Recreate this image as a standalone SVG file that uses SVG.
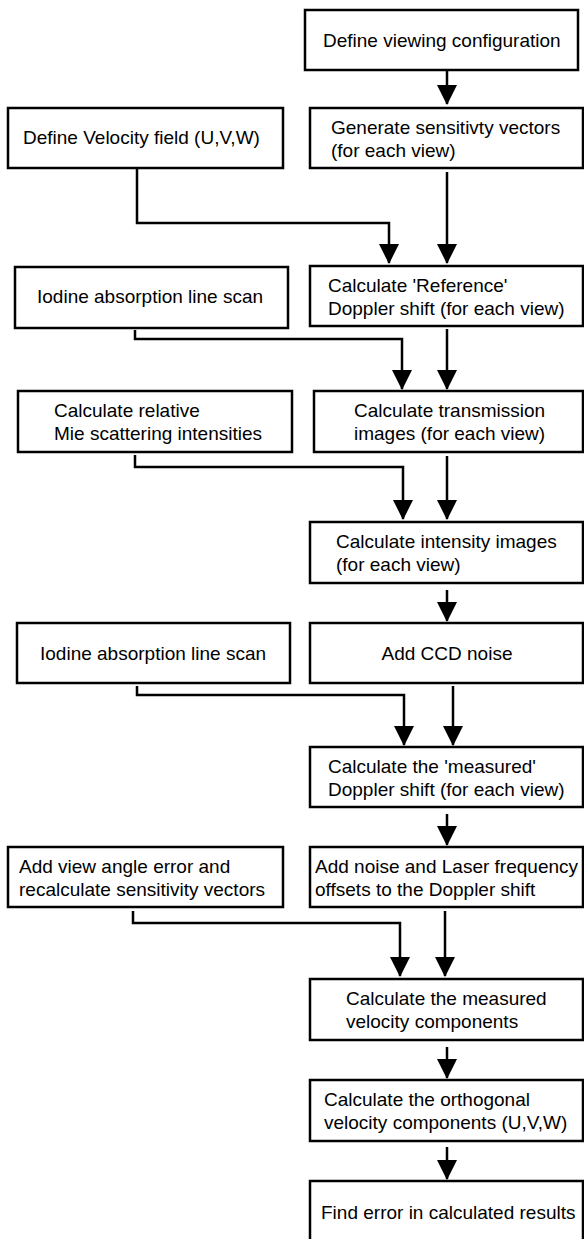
<svg xmlns="http://www.w3.org/2000/svg" width="584" height="1239" viewBox="0 0 584 1239">
<defs>
<style>
.box{fill:#fff;stroke:#000;stroke-width:2.5}
.t{font-family:"Liberation Sans",Arial,sans-serif;font-size:19px;fill:#000}
.c{fill:none;stroke:#000;stroke-width:2.5}
</style>
<marker id="ah" markerUnits="userSpaceOnUse" markerWidth="20" markerHeight="20" viewBox="0 0 20 20" refX="19" refY="10" orient="auto">
<path d="M0,0 L20,10 L0,20 z" fill="#000"/>
</marker>
</defs>
<rect width="584" height="1239" fill="#fff"/>
<g id="connectors">
<path class="c" d="M447,70 V104" marker-end="url(#ah)"/>
<path class="c" d="M447,172 V263" marker-end="url(#ah)"/>
<path class="c" d="M137,168 V223 H389 V263" marker-end="url(#ah)"/>
<path class="c" d="M135,330 V339 H402 V389" marker-end="url(#ah)"/>
<path class="c" d="M447,329 V389" marker-end="url(#ah)"/>
<path class="c" d="M135,455 V467 H403 V519" marker-end="url(#ah)"/>
<path class="c" d="M447,456 V519" marker-end="url(#ah)"/>
<path class="c" d="M447,590 V621" marker-end="url(#ah)"/>
<path class="c" d="M137,686 V695 H404 V745" marker-end="url(#ah)"/>
<path class="c" d="M453,686 V745" marker-end="url(#ah)"/>
<path class="c" d="M447,814 V845" marker-end="url(#ah)"/>
<path class="c" d="M133,911 V923 H400 V976" marker-end="url(#ah)"/>
<path class="c" d="M445,911 V976" marker-end="url(#ah)"/>
<path class="c" d="M447,1047 V1078" marker-end="url(#ah)"/>
<path class="c" d="M447,1147 V1179" marker-end="url(#ah)"/>
</g>
<g id="n1"><rect class="box" x="305" y="10" width="273" height="60"/><text class="t" x="323" y="47">Define viewing configuration</text></g>
<g id="n2"><rect class="box" x="310" y="108" width="273" height="60"/><text class="t" x="331" y="134">Generate sensitivty vectors</text><text class="t" x="331" y="157">(for each view)</text></g>
<g id="n3"><rect class="box" x="8" y="108" width="275" height="60"/><text class="t" x="23" y="144">Define Velocity field (U,V,W)</text></g>
<g id="n4"><rect class="box" x="310" y="266" width="273" height="60"/><text class="t" x="328" y="292">Calculate 'Reference'</text><text class="t" x="328" y="315">Doppler shift (for each view)</text></g>
<g id="n5"><rect class="box" x="15" y="267" width="273" height="61"/><text class="t" x="37" y="303">Iodine absorption line scan</text></g>
<g id="n6"><rect class="box" x="314" y="391" width="269" height="61"/><text class="t" x="354" y="417">Calculate transmission</text><text class="t" x="354" y="440">images (for each view)</text></g>
<g id="n7"><rect class="box" x="18" y="391" width="274" height="61"/><text class="t" x="54" y="417">Calculate relative</text><text class="t" x="54" y="440">Mie scattering intensities</text></g>
<g id="n8"><rect class="box" x="310" y="522" width="273" height="61"/><text class="t" x="336" y="548">Calculate intensity images</text><text class="t" x="336" y="571">(for each view)</text></g>
<g id="n9"><rect class="box" x="310" y="623" width="273" height="60"/><text class="t" x="447" y="660" text-anchor="middle">Add CCD noise</text></g>
<g id="n10"><rect class="box" x="17" y="623" width="273" height="60"/><text class="t" x="40" y="660">Iodine absorption line scan</text></g>
<g id="n11"><rect class="box" x="310" y="747" width="273" height="60"/><text class="t" x="328" y="773">Calculate the 'measured'</text><text class="t" x="328" y="796">Doppler shift (for each view)</text></g>
<g id="n12"><rect class="box" x="310" y="847" width="273" height="60"/><text class="t" x="315" y="873">Add noise and Laser frequency</text><text class="t" x="315" y="896">offsets to the Doppler shift</text></g>
<g id="n13"><rect class="box" x="8" y="847" width="275" height="60"/><text class="t" x="19" y="873">Add view angle error and</text><text class="t" x="19" y="896">recalculate sensitivity vectors</text></g>
<g id="n14"><rect class="box" x="310" y="979" width="273" height="61"/><text class="t" x="346" y="1005">Calculate the measured</text><text class="t" x="346" y="1028">velocity components</text></g>
<g id="n15"><rect class="box" x="310" y="1080" width="273" height="61"/><text class="t" x="324" y="1106">Calculate the orthogonal</text><text class="t" x="324" y="1129">velocity components (U,V,W)</text></g>
<g id="n16"><rect class="box" x="310" y="1181" width="273" height="70"/><text class="t" x="321" y="1219">Find error in calculated results</text></g>
</svg>
